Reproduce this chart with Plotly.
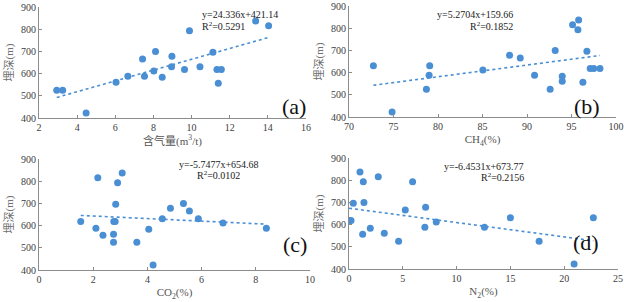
import plotly.graph_objects as go

# ---- data ----
depth_a = [525, 525, 422, 561, 588, 666, 588, 612, 699, 583, 631, 678, 618, 793, 631, 696, 618, 556, 618, 837, 816]
gas = [2.93, 3.24, 4.47, 6.04, 6.66, 7.43, 7.53, 8.02, 8.11, 8.46, 8.95, 8.97, 9.63, 9.89, 10.44, 11.12, 11.33, 11.40, 11.56, 13.36, 14.04]

depth_b = [631, 422, 525, 588, 631, 612, 678, 666, 588, 525, 699, 583, 561, 816, 837, 793, 556, 696, 618, 618, 618]
ch4 = [72.74, 74.84, 78.70, 79.00, 79.07, 85.04, 88.04, 89.24, 90.85, 92.60, 93.17, 93.96, 93.96, 95.12, 95.80, 95.72, 96.28, 96.73, 97.10, 97.50, 98.20]

depth_c = [618, 816, 588, 556, 618, 618, 561, 525, 696, 793, 837, 525, 583, 422, 631, 678, 699, 666, 631, 612, 588]
co2 = [1.54, 2.17, 2.10, 2.36, 2.76, 2.81, 2.75, 2.75, 2.83, 2.90, 3.07, 3.61, 4.05, 4.21, 4.55, 4.85, 5.33, 5.55, 5.88, 6.79, 8.39]

depth_d = [618, 618, 696, 837, 793, 556, 699, 583, 816, 561, 525, 666, 793, 588, 678, 612, 588, 631, 525, 422, 631]
n2 = [0.00, 0.19, 0.40, 1.02, 1.33, 1.27, 1.39, 1.98, 2.72, 3.28, 4.61, 5.23, 5.91, 7.05, 7.12, 8.11, 12.59, 15.00, 17.67, 20.92, 22.71]

slopes = [24.336, 5.2704, -5.7477, -6.4531]
intercepts = [421.14, 159.66, 654.68, 673.77]
eq_texts = ["y=24.336x+421.14", "y=5.2704x+159.66", "y=-5.7477x+654.68", "y=-6.4531x+673.77"]
r2_texts = ["R<sup>2</sup>=0.5291", "R<sup>2</sup>=0.1852", "R<sup>2</sup>=0.0102", "R<sup>2</sup>=0.2156"]
panel_labels = ["(a)", "(b)", "(c)", "(d)"]
x_titles = ["含气量(m<sup>3</sup>/t)", "CH<sub>4</sub>(%)", "CO<sub>2</sub>(%)", "N<sub>2</sub>(%)"]
y_title = "埋深(m)"
x_ranges = [[2, 16], [70, 100], [0, 10], [0, 25]]
x_dticks = [2, 5, 2, 5]

xs = [gas, ch4, co2, n2]
ys = [depth_a, depth_b, depth_c, depth_d]

# ---- layout geometry (paper fractions) ----
W, H = 624, 302
boxes = [  # left, right, top, bottom in px
    (39, 306, 7, 118),
    (349, 616, 6, 117),
    (39, 310, 159, 270),
    (349, 618, 158, 269),
]
eq_pos = [(200, 7, 18), (515, 7, 18), (219, 164, 175), (526, 166, 177)]
lab_pos = [(294, 107), (602, 107), (295, 259), (601, 257)]

BLUE = "#4a8fd4"
AXC = "#8c8c8c"
TXT = "#404040"
SERIF = "Liberation Serif, Times New Roman, Noto Sans CJK SC, serif"

fig = go.Figure()
layout = dict(
    width=W, height=H, margin=dict(l=0, r=0, t=0, b=0, autoexpand=False),
    paper_bgcolor="white", plot_bgcolor="white", showlegend=False,
    font=dict(family=SERIF, color=TXT, size=10),
)
annotations = []
for i in range(4):
    n = "" if i == 0 else str(i + 1)
    xa, ya = "x" + n, "y" + n
    l, r, t, b = boxes[i]
    fig.add_trace(go.Scatter(
        x=xs[i], y=ys[i], mode="markers", xaxis=xa, yaxis=ya,
        marker=dict(color=BLUE, size=7, line=dict(width=0)),
    ))
    x0, x1 = min(xs[i]), max(xs[i])
    fig.add_trace(go.Scatter(
        x=[x0, x1], y=[slopes[i] * x0 + intercepts[i], slopes[i] * x1 + intercepts[i]],
        mode="lines", xaxis=xa, yaxis=ya,
        line=dict(color=BLUE, width=1.6, dash="dot"),
    ))
    layout["xaxis" + n] = dict(
        domain=[l / W, r / W], anchor=ya, range=x_ranges[i], dtick=x_dticks[i],
        showline=True, linecolor=AXC, linewidth=1, ticks="inside", ticklen=3,
        tickcolor=AXC, showgrid=False, zeroline=False, automargin=False,
        tickfont=dict(family=SERIF, size=10, color=TXT),
        title=dict(text=x_titles[i], font=dict(family=SERIF, size=11, color="#555555"), standoff=4),
    )
    layout["yaxis" + n] = dict(
        domain=[1 - b / H, 1 - t / H], anchor=xa, range=[400, 900], dtick=100,
        showline=True, linecolor=AXC, linewidth=1, ticks="inside", ticklen=3,
        tickcolor=AXC, showgrid=False, zeroline=False, automargin=False,
        tickfont=dict(family=SERIF, size=10, color=TXT),
        title=dict(text=y_title, font=dict(family=SERIF, size=11, color="#707070"), standoff=5),
    )
    ex, ey1, ey2 = eq_pos[i]
    annotations.append(dict(text=eq_texts[i], x=ex / W, y=1 - ey1 / H, xref="paper", yref="paper",
                            showarrow=False, font=dict(family=SERIF, size=10, color="#222222")))
    annotations.append(dict(text=r2_texts[i], x=ex / W, y=1 - ey2 / H, xref="paper", yref="paper",
                            showarrow=False, font=dict(family=SERIF, size=10, color="#222222")))
    lx, ly = lab_pos[i]
    annotations.append(dict(text=panel_labels[i], x=lx / W, y=1 - ly / H, xref="paper", yref="paper",
                            showarrow=False, font=dict(family=SERIF, size=22, color="#111111")))
layout["annotations"] = annotations
fig.update_layout(**layout)
fig.write_html("out.html", config={"displayModeBar": False},
               post_script="document.body.style.margin='0';document.body.style.overflow='hidden';")
